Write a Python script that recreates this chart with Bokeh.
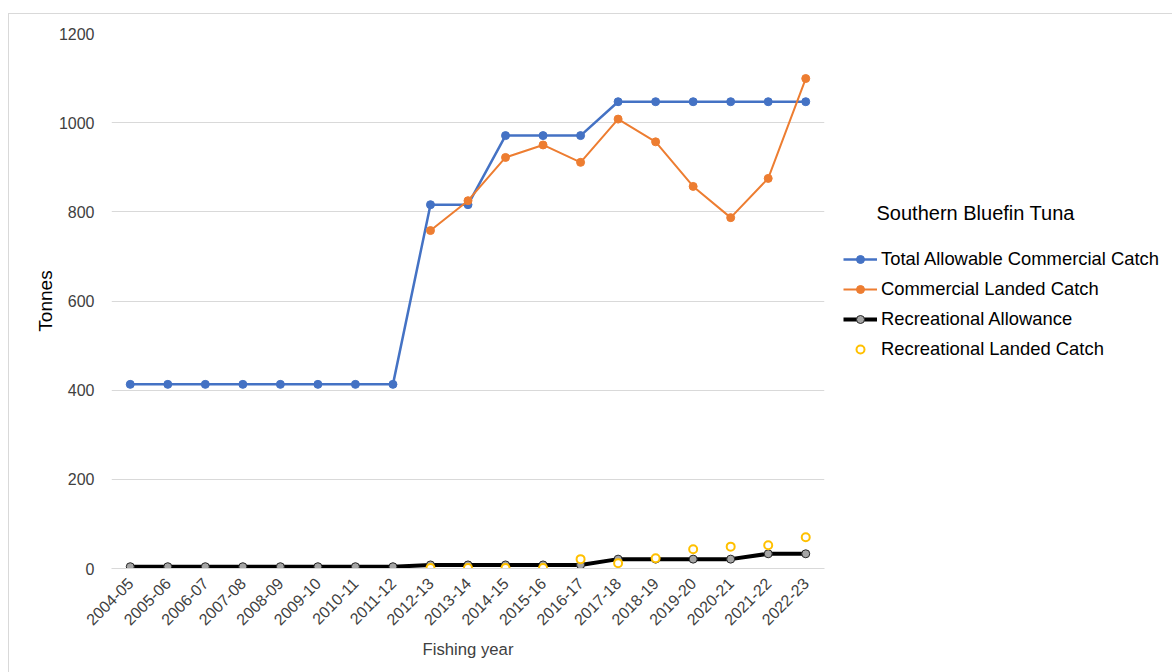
import math
from bokeh.plotting import figure
from bokeh.layouts import row
from bokeh.models import FactorRange, Range1d, Legend, LegendItem, FixedTicker, Label
from bokeh.embed import file_html
from bokeh.resources import INLINE

years = ["2004-05", "2005-06", "2006-07", "2007-08", "2008-09", "2009-10", "2010-11",
         "2011-12", "2012-13", "2013-14", "2014-15", "2015-16", "2016-17", "2017-18",
         "2018-19", "2019-20", "2020-21", "2021-22", "2022-23"]
tacc = [413, 413, 413, 413, 413, 413, 413, 413, 816, 816, 971, 971, 971, 1047, 1047,
        1047, 1047, 1047, 1047]
comm_years = years[8:]
comm_landed = [758, 825, 922, 950, 911, 1008, 957, 857, 787, 875, 1099]
rec_allow = [4, 4, 4, 4, 4, 4, 4, 4, 8, 8, 8, 8, 8, 21, 21, 21, 21, 33, 33]
rec_years = years[8:]
rec_landed = [1, 1, 1, 1, 21, 12, 23, 43, 49, 52, 70]

FONT = "Liberation Sans"
TXT = "#404040"
BLUE = "#4472C4"
ORANGE = "#ED7D31"
YELLOW = "#FFC000"

p = figure(x_range=FactorRange(*years, range_padding=0), y_range=Range1d(0, 1200),
           width=830, height=659, output_backend="svg", toolbar_location=None,
           min_border_left=102, min_border_top=19, min_border_right=15, min_border_bottom=105)
p.outline_line_color = None
p.background_fill_color = "white"
p.border_fill_color = "white"

p.xgrid.grid_line_color = None
p.ygrid.grid_line_color = "#d9d9d9"
p.ygrid.grid_line_width = 1
p.yaxis.ticker = FixedTicker(ticks=[0, 200, 400, 600, 800, 1000, 1200])
p.yaxis.axis_line_color = None
p.yaxis.major_tick_line_color = None
p.yaxis.minor_tick_line_color = None
p.yaxis.major_label_text_font = FONT
p.yaxis.major_label_text_font_size = "16px"
p.yaxis.major_label_text_color = TXT
p.yaxis.major_label_standoff = 11
p.yaxis.axis_label = "Tonnes"
p.yaxis.axis_label_text_font = FONT
p.yaxis.axis_label_text_font_size = "19px"
p.yaxis.axis_label_text_font_style = "normal"
p.yaxis.axis_label_text_color = "#000000"
p.yaxis.axis_label_standoff = 0

p.xaxis.axis_line_color = "#d9d9d9"
p.xaxis.major_tick_line_color = None
p.xaxis.minor_tick_line_color = None
p.xaxis.major_label_orientation = math.pi / 4
p.xaxis.major_label_text_font = FONT
p.xaxis.major_label_text_font_size = "16px"
p.xaxis.major_label_text_color = TXT
p.xaxis.major_label_standoff = 6
p.xaxis.axis_label = "Fishing year"
p.xaxis.axis_label_text_font = FONT
p.xaxis.axis_label_text_font_size = "16.7px"
p.xaxis.axis_label_text_font_style = "normal"
p.xaxis.axis_label_text_color = TXT
p.xaxis.axis_label_standoff = 6

p.line(years, tacc, line_color=BLUE, line_width=2.5)
p.scatter(years, tacc, size=8, fill_color=BLUE, line_color=BLUE)
p.line(comm_years, comm_landed, line_color=ORANGE, line_width=2)
p.scatter(comm_years, comm_landed, size=8, fill_color=ORANGE, line_color=ORANGE)
p.line(years, rec_allow, line_color="black", line_width=4)
p.scatter(years, rec_allow, size=8, fill_color="#A5A5A5", line_color="#262626", line_width=1)
p.scatter(rec_years, rec_landed, size=8, fill_color="white", line_color=YELLOW, line_width=2)

# legend panel: a second figure whose swatch renderers hold no visible data
q = figure(width=334, height=659, output_backend="svg", toolbar_location=None,
           x_axis_type=None, y_axis_type=None, x_range=Range1d(0, 1), y_range=Range1d(0, 1),
           min_border=0)
q.outline_line_color = None
q.xgrid.visible = False
q.ygrid.visible = False
q.background_fill_color = "white"
q.border_fill_color = "white"
nan = [float("nan")]
l1 = q.line(x=nan, y=nan, line_color=BLUE, line_width=2.5)
c1 = q.scatter(x=nan, y=nan, size=8, fill_color=BLUE, line_color=BLUE)
l2 = q.line(x=nan, y=nan, line_color=ORANGE, line_width=2)
c2 = q.scatter(x=nan, y=nan, size=8, fill_color=ORANGE, line_color=ORANGE)
l3 = q.line(x=nan, y=nan, line_color="black", line_width=4)
c3 = q.scatter(x=nan, y=nan, size=8, fill_color="#A5A5A5", line_color="#262626", line_width=1)
c4 = q.scatter(x=nan, y=nan, size=8, fill_color="white", line_color=YELLOW, line_width=2)

legend = Legend(items=[
    LegendItem(label="Total Allowable Commercial Catch", renderers=[l1, c1]),
    LegendItem(label="Commercial Landed Catch", renderers=[l2, c2]),
    LegendItem(label="Recreational Allowance", renderers=[l3, c3]),
    LegendItem(label="Recreational Landed Catch", renderers=[c4]),
], location=(4, 208))
legend.border_line_color = None
legend.background_fill_alpha = 0
legend.padding = 0
legend.margin = 0
legend.spacing = 8
legend.glyph_width = 34
legend.glyph_height = 20
legend.label_height = 20
legend.label_standoff = 4
legend.label_text_font = FONT
legend.label_text_font_size = "18.4px"
legend.label_text_color = "#000000"
q.add_layout(legend, "center")

title = Label(x=37, y=356, x_units="screen", y_units="screen",
              text="Southern Bluefin Tuna", text_font=FONT, text_font_size="20px",
              text_color="#000000", text_baseline="middle")
q.add_layout(title)

layout = row(p, q)
layout.margin = (13, 0, 0, 8)
layout.styles = {"border-left": "1px solid #d9d9d9", "border-top": "1px solid #d9d9d9"}

open("out.html", "w").write(file_html(layout, INLINE))
